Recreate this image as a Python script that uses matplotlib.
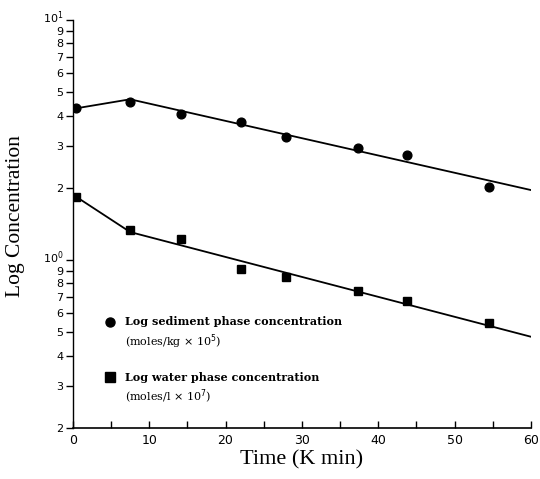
import matplotlib
matplotlib.use("Agg")
import matplotlib.pyplot as plt
import matplotlib.transforms as mtransforms
from matplotlib.ticker import FixedLocator, FixedFormatter

# ── data ───────────────────────────────────────────────────────────────────
time_pts = [0.4, 7.5, 14.2, 22.0, 27.9, 37.3, 43.8, 54.5]
sediment = [4.29, 4.58, 4.08, 3.78, 3.26, 2.92, 2.73, 2.01]
water = [1.84, 1.34, 1.23, 0.923, 0.847, 0.745, 0.677, 0.548]

# fitted lines (break at second sample, then straight to x=60)
fit_x = [0.4, 7.5, 60.0]
sediment_fit = [4.29, 4.68, 1.96]
water_fit = [1.84, 1.31, 0.48]

x_major = [0, 10, 20, 30, 40, 50, 60]
x_minor = [5, 15, 25, 35, 45, 55]
y_major = [1, 10]
y_major_labels = ["$10^0$", "$10^1$"]
y_minor = [0.2, 0.3, 0.4, 0.5, 0.6, 0.7, 0.8, 0.9, 2, 3, 4, 5, 6, 7, 8, 9]
y_minor_labels = ["2", "3", "4", "5", "6", "7", "8", "9"] * 2

legend_lines = [
    ("Log sediment phase concentration", "(moles/kg $\\times$ 10$^5$)", "o"),
    ("Log water phase concentration", "(moles/l $\\times$ 10$^7$)", "s"),
]

# ── figure ─────────────────────────────────────────────────────────────────
fig = plt.figure(figsize=(5.4, 4.79), dpi=100)
ax = fig.add_axes([0.135, 0.1065, 0.848, 0.8515])

ax.plot(fit_x, sediment_fit, color="black", lw=1.3)
ax.plot(fit_x, water_fit, color="black", lw=1.3)
ax.plot(time_pts, sediment, "o", color="black", ms=6.3)
ax.plot(time_pts, water, "s", color="black", ms=6)

ax.set_yscale("log")
ax.set_xlim(0, 60)
ax.set_ylim(0.2, 10)

ax.xaxis.set_major_locator(FixedLocator(x_major))
ax.xaxis.set_minor_locator(FixedLocator(x_minor))
ax.yaxis.set_major_locator(FixedLocator(y_major))
ax.yaxis.set_major_formatter(FixedFormatter(y_major_labels))
ax.yaxis.set_minor_locator(FixedLocator(y_minor))
ax.yaxis.set_minor_formatter(FixedFormatter(y_minor_labels))

ax.tick_params(axis="x", which="both", direction="in", length=5, width=1,
               labelsize=9, pad=4)
ax.tick_params(axis="y", which="both", direction="out", length=5, width=1,
               labelsize=8, pad=2)
for lab in ax.get_xticklabels() + ax.get_yticklabels(which="both"):
    lab.set_family("DejaVu Sans")

# nudge the 10^n labels up a little so they clear the "9" below
nudge = mtransforms.ScaledTranslation(0, 3 / 72, fig.dpi_scale_trans)
for tick in ax.yaxis.get_major_ticks():
    tick.label1.set_transform(tick.label1.get_transform() + nudge)

ax.spines["top"].set_visible(False)
ax.spines["right"].set_visible(False)
ax.spines["left"].set_linewidth(1)
ax.spines["bottom"].set_linewidth(1.2)

ax.set_xlabel("Time (K min)", family="Liberation Serif", fontsize=16, labelpad=3)
ax.set_ylabel("Log Concentration", family="Liberation Serif", fontsize=15.5)
ax.yaxis.set_label_coords(-0.104, 0.52)

# hand-drawn style legend inside the axes
ys = [0.26, 0.125]
for (l1, l2, mk), yy in zip(legend_lines, ys):
    ax.plot([0.081], [yy], mk, color="black", ms=6.5, transform=ax.transAxes,
            clip_on=False)
    ax.text(0.113, yy, l1, transform=ax.transAxes, va="center", ha="left",
            family="DejaVu Serif", fontsize=8, fontweight="bold")
    ax.text(0.113, yy - 0.049, l2, transform=ax.transAxes, va="center",
            ha="left", family="DejaVu Serif", fontsize=8)

fig.savefig("out.png", dpi=100)
